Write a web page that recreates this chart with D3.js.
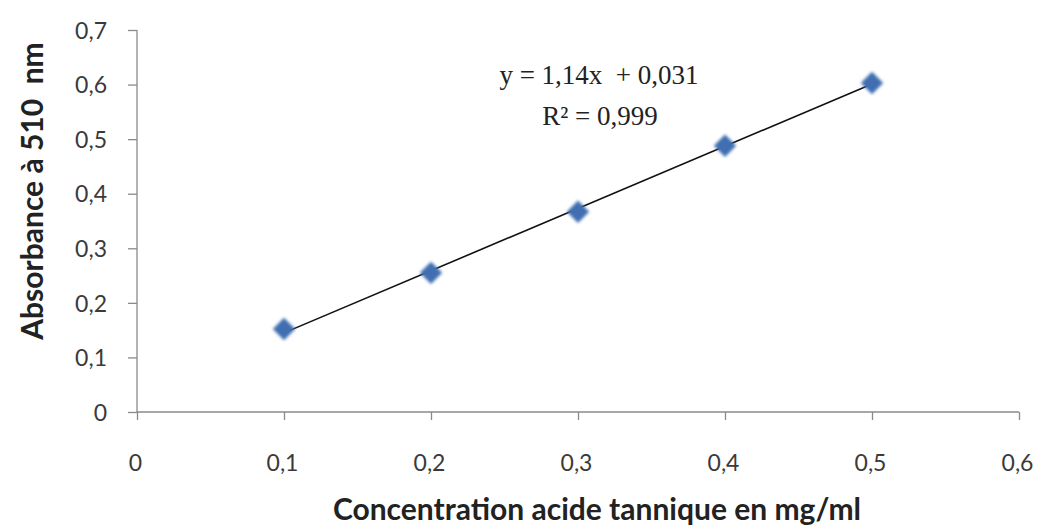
<!DOCTYPE html>
<html>
<head>
<meta charset="utf-8">
<script src="https://cdn.jsdelivr.net/npm/d3@7"></script>
<style>
  html, body { margin: 0; padding: 0; background: #fff; }
  svg { display: block; }
</style>
</head>
<body>
<svg id="chart" width="1041" height="527"></svg>
<script>
// Tannic acid calibration: concentration (mg/ml) vs absorbance at 510 nm
const concentrations = [0.1, 0.2, 0.3, 0.4, 0.5];
const absorbances = [0.152, 0.255, 0.367, 0.488, 0.603];

const xTicks = [0, 0.1, 0.2, 0.3, 0.4, 0.5, 0.6];
const yTicks = [0, 0.1, 0.2, 0.3, 0.4, 0.5, 0.6, 0.7];

// Linear trendline reported on the chart
const slope = 1.14;
const intercept = 0.031;
const equationText = "y = 1,14x  + 0,031";
const r2Text = "R² = 0,999";

const xTitle = "Concentration acide tannique en mg/ml";
const yTitle = "Absorbance à 510  nm";

const svg = d3.select("#chart");
const margin = { left: 137, right: 22, top: 30, bottom: 115 };
const W = 1041, H = 527;

const x = d3.scaleLinear().domain([0, 0.6]).range([margin.left, W - margin.right]);
const y = d3.scaleLinear().domain([0, 0.7]).range([H - margin.bottom, margin.top]);

const fmt = d => d === 0 ? "0" : d3.format(".1f")(d).replace(".", ",");
const axisColor = "#8a8a8a";
const labelColor = "#3a3a3a";

// X axis
const gx = svg.append("g")
  .attr("transform", `translate(0,${y(0)})`)
  .call(d3.axisBottom(x).tickValues(xTicks).tickFormat(fmt).tickSize(8).tickPadding(35));
// Y axis
const gy = svg.append("g")
  .attr("transform", `translate(${x(0)},0)`)
  .call(d3.axisLeft(y).tickValues(yTicks).tickFormat(fmt).tickSize(9).tickPadding(21));

[gx, gy].forEach(g => {
  g.select(".domain").attr("stroke", axisColor).attr("stroke-width", 1.3);
  g.selectAll(".tick line").attr("stroke", axisColor).attr("stroke-width", 1.3);
  g.selectAll(".tick text")
    .attr("fill", labelColor)
    .style("font-family", "Lato, 'Open Sans', sans-serif")
    .style("font-size", "23px");
});
gx.selectAll(".tick text").attr("dx", "-2px");
gy.selectAll(".tick text").attr("dy", "0.36em");
// plain axis lines, ticks drawn separately by the axis
gy.select(".domain").attr("d", `M0,${y(0.7)}V${y(0)}`);
gx.select(".domain").attr("d", `M${x(0)},0H${x(0.6)}`);

// Trendline between the first and last concentration
const xMin = d3.min(concentrations), xMax = d3.max(concentrations);
svg.append("line")
  .attr("x1", x(xMin)).attr("y1", y(slope * xMin + intercept))
  .attr("x2", x(xMax)).attr("y2", y(slope * xMax + intercept))
  .attr("stroke", "#111").attr("stroke-width", 1.6);

// Soft diamond markers
const defs = svg.append("defs");
defs.append("filter").attr("id", "soft")
  .attr("x", "-50%").attr("y", "-50%").attr("width", "200%").attr("height", "200%")
  .append("feGaussianBlur").attr("stdDeviation", 1.4);

const diamond = d3.symbol().type(d3.symbolDiamond2).size(320);
svg.append("g").selectAll("path")
  .data(concentrations.map((c, i) => [c, absorbances[i]]))
  .join("path")
  .attr("d", diamond)
  .attr("transform", d => `translate(${x(d[0])},${y(d[1])})`)
  .attr("fill", "#3f6eb0")
  .attr("filter", "url(#soft)");

// Equation labels
const eq = svg.append("g")
  .style("font-family", "'Liberation Serif', 'Times New Roman', serif")
  .style("font-size", "27px")
  .attr("fill", "#222")
  .attr("text-anchor", "middle");
eq.append("text").attr("x", 599).attr("y", 84).style("white-space", "pre").text(equationText);
eq.append("text").attr("x", 600).attr("y", 125).text(r2Text);

// Axis titles
svg.append("text")
  .attr("x", 597).attr("y", 520)
  .attr("text-anchor", "middle")
  .attr("fill", "#222")
  .style("font-family", "Lato, 'Open Sans', sans-serif")
  .style("font-weight", "bold")
  .style("font-size", "30px")
  .text(xTitle);

svg.append("text")
  .attr("transform", `translate(43,191) rotate(-90)`)
  .attr("text-anchor", "middle")
  .attr("fill", "#222")
  .style("font-family", "Lato, 'Open Sans', sans-serif")
  .style("font-weight", "bold")
  .style("font-size", "30px")
  .style("white-space", "pre")
  .text(yTitle);
</script>
</body>
</html>
